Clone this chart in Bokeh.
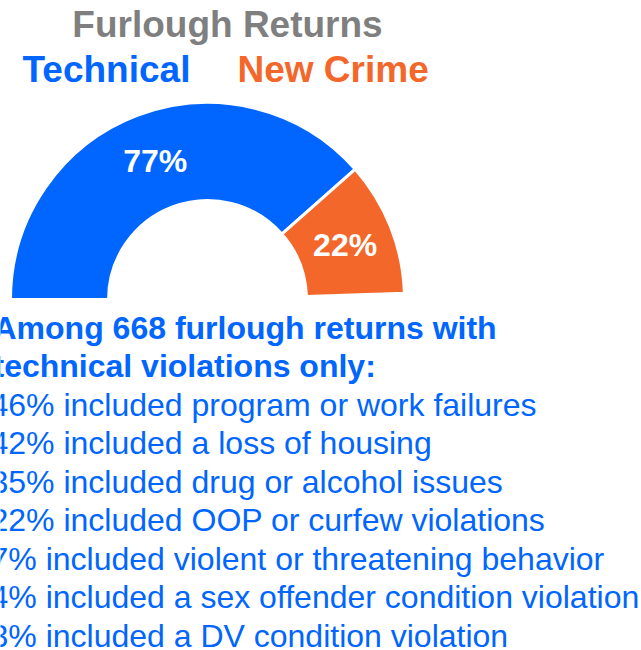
import numpy as np
from bokeh.plotting import figure
from bokeh.models import Range1d, ColumnDataSource
from bokeh.core.properties import value
from bokeh.embed import file_html
from bokeh.resources import INLINE

# ---- data ----
chart_title = "Furlough Returns"
categories = ["Technical", "New Crime"]
percentages = [77, 22]
colors = ["#0066FF", "#F4672A"]
heading_lines = ["Among 668 furlough returns with", "technical violations only:"]
detail_lines = [
    "46% included program or work failures",
    "42% included a loss of housing",
    "35% included drug or alcohol issues",
    "22% included OOP or curfew violations",
    "7% included violent or threatening behavior",
    "4% included a sex offender condition violation",
    "3% included a DV condition violation",
]

W, H = 641, 650
FONT = value("Liberation Sans")

p = figure(width=W, height=H, output_backend="svg", toolbar_location=None,
           x_range=Range1d(0, W), y_range=Range1d(0, H),
           x_axis_type=None, y_axis_type=None, min_border=0,
           outline_line_color=None, background_fill_color="white",
           margin=0)
p.grid.visible = False

# ---- half donut ----
cx, cy = 207, H - 299
r_in, r_out = 99, 197
vals = np.array(percentages, dtype=float) / 100.0
ends = np.pi - np.concatenate([[0], np.cumsum(vals)[:-1]]) * np.pi
starts = ends - vals * np.pi
src = ColumnDataSource(dict(start=starts, end=ends, color=colors,
                            label=[f"{v}%" for v in percentages],
                            lx=cx + (r_in + r_out) / 2 * np.cos((starts + ends) / 2),
                            ly=cy + (r_in + r_out) / 2 * np.sin((starts + ends) / 2)))
p.annular_wedge(x=cx, y=cy, inner_radius=r_in, outer_radius=r_out,
                inner_radius_units="screen", outer_radius_units="screen",
                start_angle="start", end_angle="end", fill_color="color",
                line_color="white", line_width=3, source=src)
p.text(x="lx", y="ly", text="label", source=src, text_color="white",
       text_font=FONT, text_font_style="bold", text_font_size="32px",
       text_align="center", text_baseline="middle")

# ---- titles ----
p.text(x=[227], y=[H - 24], text=[chart_title], text_color="#7F7F7F",
       text_font=FONT, text_font_style="bold", text_font_size="37px",
       text_align="center", text_baseline="alphabetic")
p.text(x=[22, 237], y=[H - 69, H - 69], text=categories, text_color=colors,
       text_font=FONT, text_font_style="bold", text_font_size="37px",
       text_align="left", text_baseline="alphabetic")

# ---- summary text ----
base0 = 327
step = 38.5
n_head = len(heading_lines)
p.text(x=[-7] * n_head, y=[H - (base0 + i * step) for i in range(n_head)],
       text=heading_lines, text_color="#0066FF", text_font=FONT,
       text_font_style="bold", text_font_size="32px",
       text_align="left", text_baseline="alphabetic")
p.text(x=[-10] * len(detail_lines),
       y=[H - (base0 + (i + n_head) * step) for i in range(len(detail_lines))],
       text=detail_lines, text_color="#0066FF", text_font=FONT,
       text_font_size="32px", text_align="left", text_baseline="alphabetic")

open("out.html", "w").write(file_html(p, INLINE))
